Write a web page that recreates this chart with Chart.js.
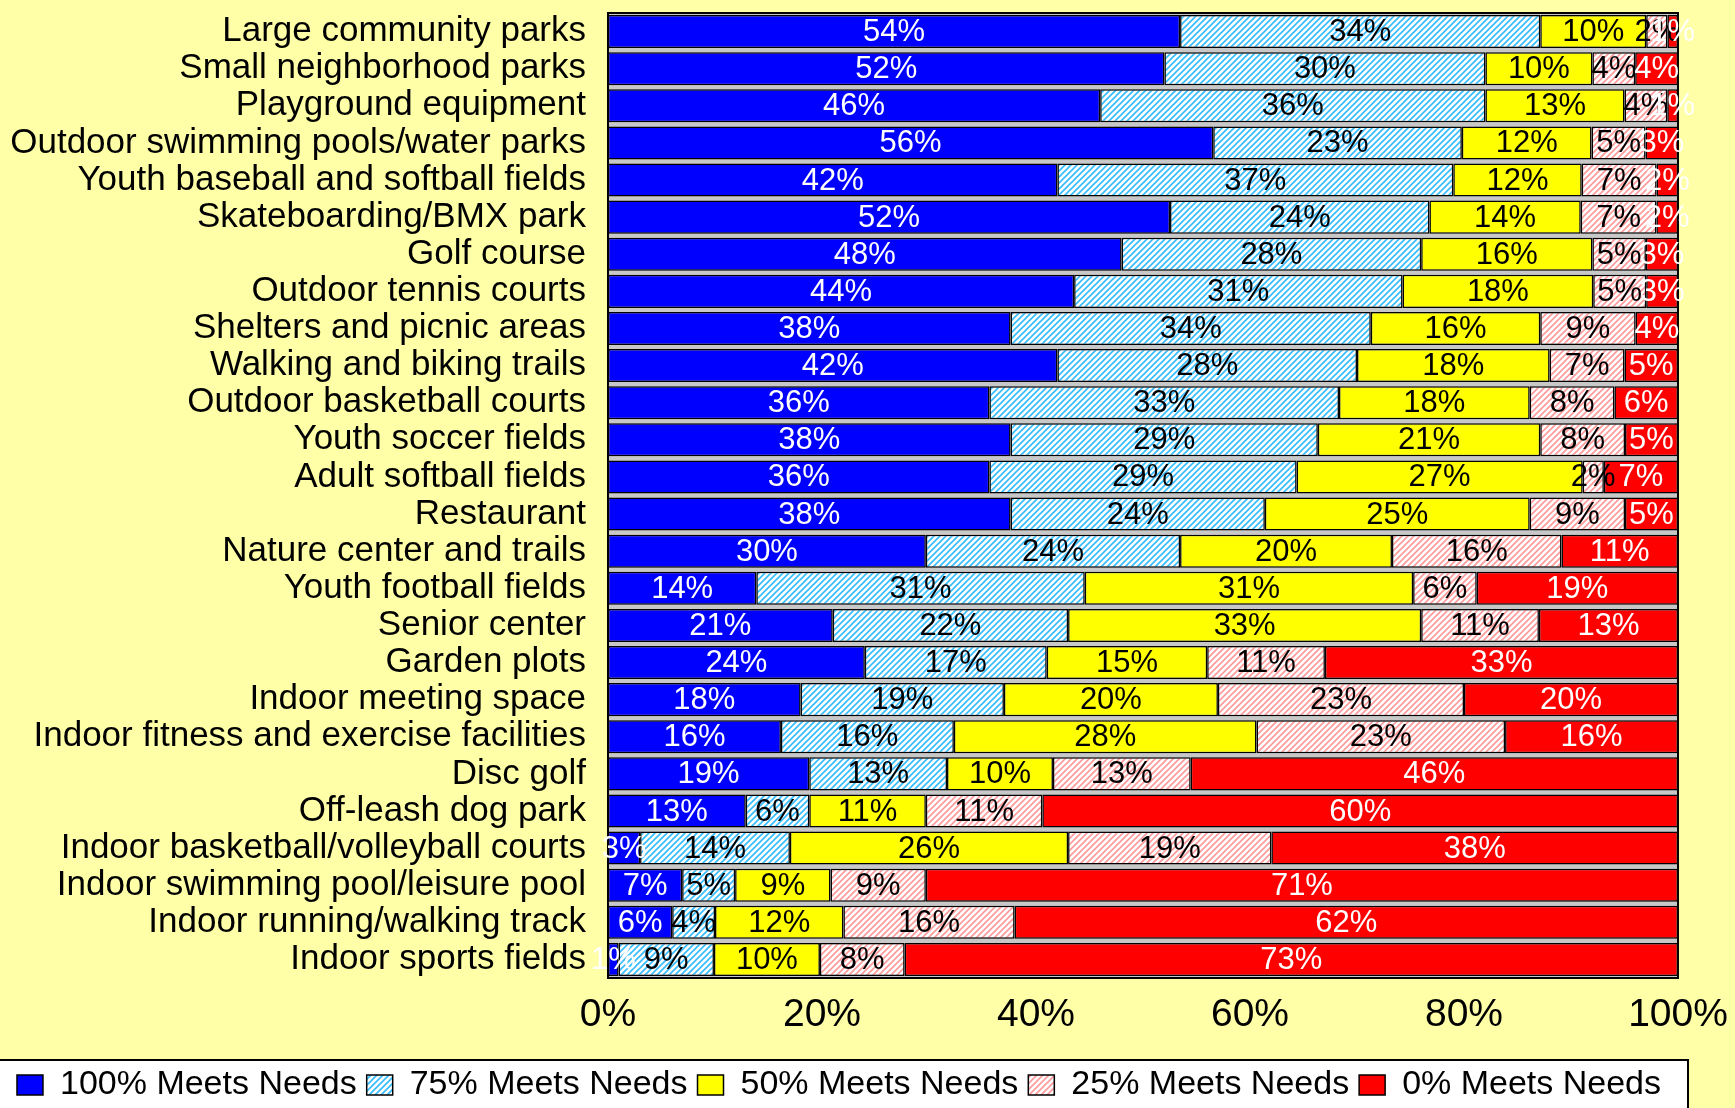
<!DOCTYPE html>
<html>
<head>
<meta charset="utf-8">
<script src="https://cdn.jsdelivr.net/npm/chart.js@4.4.1/dist/chart.umd.min.js"></script>
<style>
  html, body { margin: 0; padding: 0; background: #FFFFA8; }
  #wrap { width: 1735px; height: 1108px; position: relative; }
</style>
</head>
<body>
<div id="wrap"><canvas id="grafico"></canvas></div>
<script>
// Categorias (de arriba hacia abajo)
const categorias = [
  'Large community parks', 'Small neighborhood parks', 'Playground equipment',
  'Outdoor swimming pools/water parks', 'Youth baseball and softball fields',
  'Skateboarding/BMX park', 'Golf course', 'Outdoor tennis courts',
  'Shelters and picnic areas', 'Walking and biking trails', 'Outdoor basketball courts',
  'Youth soccer fields', 'Adult softball fields', 'Restaurant', 'Nature center and trails',
  'Youth football fields', 'Senior center', 'Garden plots', 'Indoor meeting space',
  'Indoor fitness and exercise facilities', 'Disc golf', 'Off-leash dog park',
  'Indoor basketball/volleyball courts', 'Indoor swimming pool/leisure pool',
  'Indoor running/walking track', 'Indoor sports fields'
];

// Porcentajes por serie
const cumple100 = [54, 52, 46, 56, 42, 52, 48, 44, 38, 42, 36, 38, 36, 38, 30, 14, 21, 24, 18, 16, 19, 13, 3, 7, 6, 1];
const cumple75  = [34, 30, 36, 23, 37, 24, 28, 31, 34, 28, 33, 29, 29, 24, 24, 31, 22, 17, 19, 16, 13, 6, 14, 5, 4, 9];
const cumple50  = [10, 10, 13, 12, 12, 14, 16, 18, 16, 18, 18, 21, 27, 25, 20, 31, 33, 15, 20, 28, 10, 11, 26, 9, 12, 10];
const cumple25  = [2, 4, 4, 5, 7, 7, 5, 5, 9, 7, 8, 8, 2, 9, 16, 6, 11, 11, 23, 23, 13, 11, 19, 9, 16, 8];
const cumple0   = [1, 4, 1, 3, 2, 2, 3, 3, 4, 5, 6, 5, 7, 5, 11, 19, 13, 33, 20, 16, 46, 60, 38, 71, 62, 73];

const nombres = ['100% Meets Needs', '75% Meets Needs', '50% Meets Needs', '25% Meets Needs', '0% Meets Needs'];
const ticksX = [0, 20, 40, 60, 80, 100];

const series = [cumple100, cumple75, cumple50, cumple25, cumple0];

// rayado diagonal sobre blanco
function rayado(color) {
  const c = document.createElement('canvas');
  c.width = 6; c.height = 6;
  const ctx = c.getContext('2d');
  ctx.fillStyle = '#ffffff';
  ctx.fillRect(0, 0, 6, 6);
  ctx.strokeStyle = color;
  ctx.lineWidth = 1.6;
  ctx.beginPath();
  ctx.moveTo(0, 6); ctx.lineTo(6, 0);
  ctx.moveTo(-1, 1); ctx.lineTo(1, -1);
  ctx.moveTo(5, 7); ctx.lineTo(7, 5);
  ctx.stroke();
  return ctx.createPattern(c, 'repeat');
}

const colores = ['#0000FF', rayado('#33BBFF'), '#FFFF00', rayado('#FF9999'), '#FF0000'];
const colorTexto = ['#ffffff', '#000000', '#000000', '#000000', '#ffffff'];

// 100% apilado: cada fila se lleva a su total
const totales = categorias.map((_, i) => series.reduce((s, serie) => s + serie[i], 0));

const fuente = "'Liberation Sans', Arial, sans-serif";

const fondo = {
  id: 'fondo',
  beforeDraw(chart) {
    const { ctx, chartArea: a, legend } = chart;
    ctx.save();
    ctx.fillStyle = '#FFFFA8';
    ctx.fillRect(0, 0, chart.width, chart.height);
    // caja blanca de la leyenda
    ctx.fillStyle = '#ffffff';
    ctx.fillRect(-4, legend.top + 2, a.right + 14, chart.height);
    ctx.strokeStyle = '#000000';
    ctx.lineWidth = 2;
    ctx.strokeRect(-4, legend.top + 2, a.right + 14, chart.height);
    ctx.restore();
  },
  beforeDatasetsDraw(chart) {
    const { ctx, chartArea: a } = chart;
    ctx.save();
    ctx.fillStyle = '#C8C8C8';
    ctx.fillRect(a.left, a.top, a.width, a.height);
    ctx.restore();
  },
  afterDatasetsDraw(chart) {
    const { ctx, chartArea: a } = chart;
    ctx.save();
    ctx.strokeStyle = '#000000';
    ctx.lineWidth = 2;
    ctx.strokeRect(a.left, a.top, a.width, a.height);
    // etiquetas de cada segmento
    ctx.font = '31px ' + fuente;
    ctx.textAlign = 'center';
    ctx.textBaseline = 'middle';
    chart.data.datasets.forEach((ds, d) => {
      const meta = chart.getDatasetMeta(d);
      ctx.fillStyle = colorTexto[d];
      meta.data.forEach((el, i) => {
        const { x, base, y } = el.getProps(['x', 'base', 'y'], true);
        ctx.fillText(ds.valores[i] + '%', (x + base) / 2, y + 1);
      });
    });
    ctx.restore();
  }
};

new Chart(document.getElementById('grafico'), {
  type: 'bar',
  data: {
    labels: categorias,
    datasets: series.map((serie, d) => ({
      label: nombres[d],
      data: serie.map((v, i) => v / totales[i] * 100),
      valores: serie,
      backgroundColor: colores[d],
      borderColor: '#000000',
      borderWidth: 1.5,
      borderSkipped: false,
      barPercentage: 0.89,
      categoryPercentage: 1
    }))
  },
  options: {
    indexAxis: 'y',
    responsive: true,
    maintainAspectRatio: false,
    animation: false,
    layout: { padding: { top: 13, right: 57, left: 0, bottom: -4 } },
    scales: {
      x: {
        stacked: true,
        min: 0,
        max: 100,
        afterBuildTicks: (scale) => { scale.ticks = ticksX.map(v => ({ value: v })); },
        afterFit: (scale) => {
          scale.height = 80;
          scale.paddingLeft = 0;
          scale.paddingRight = 0;
        },
        grid: { display: false, drawTicks: false },
        border: { display: false },
        ticks: {
          padding: 14,
          color: '#000000',
          font: { family: fuente, size: 39 },
          callback: (v) => v + '%'
        }
      },
      y: {
        stacked: true,
        afterFit: (scale) => {
          scale.width = 608;
          scale.paddingTop = 0;
          scale.paddingBottom = 0;
        },
        grid: { display: false, drawTicks: false },
        border: { display: false },
        ticks: {
          padding: 22,
          color: '#000000',
          autoSkip: false,
          font: { family: fuente, size: 35 }
        }
      }
    },
    plugins: {
      legend: {
        position: 'bottom',
        labels: {
          color: '#000000',
          boxWidth: 26,
          boxHeight: 20,
          padding: 10,
          font: { family: fuente, size: 34 }
        }
      },
      tooltip: { enabled: false }
    }
  },
  plugins: [fondo]
});
</script>
</body>
</html>
